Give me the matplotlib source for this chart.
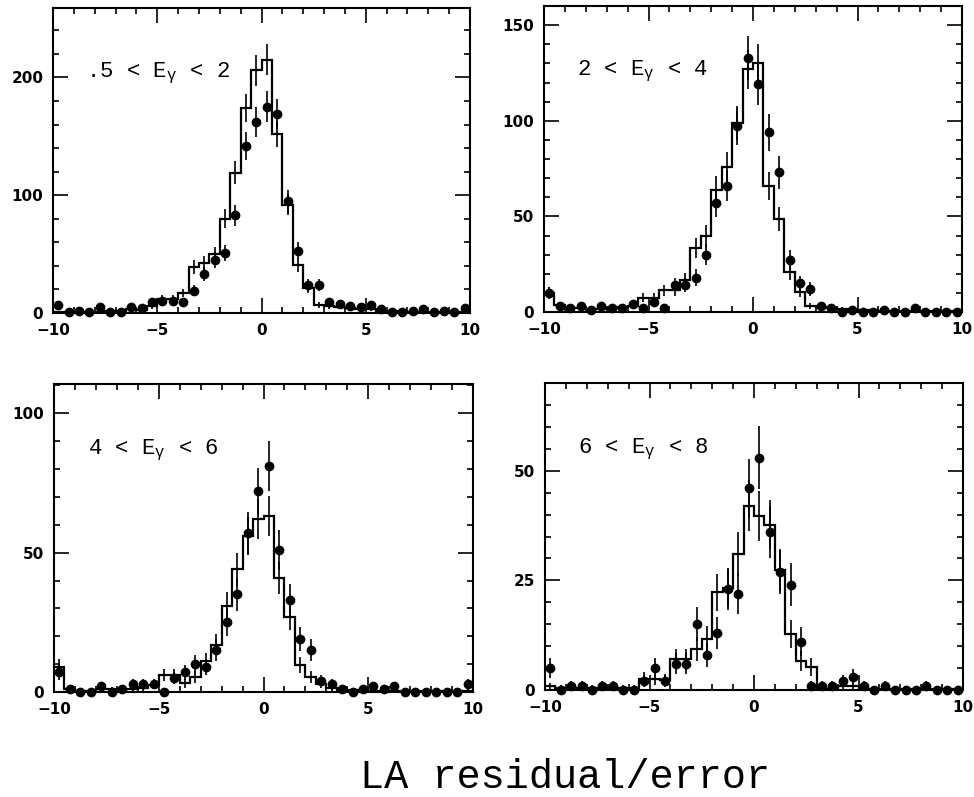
import numpy as np
import matplotlib
matplotlib.use("Agg")
import matplotlib.pyplot as plt
from matplotlib.ticker import MultipleLocator

plt.rcParams['mathtext.fontset'] = 'custom'
plt.rcParams['mathtext.rm'] = 'Liberation Mono'
plt.rcParams['mathtext.it'] = 'Liberation Mono'

# ---------------- data ----------------
bin_low, bin_high, bin_width = -10.0, 10.0, 0.5

labels = ['.5 < E$_{\\gamma}$ < 2', '2 < E$_{\\gamma}$ < 4',
          '4 < E$_{\\gamma}$ < 6', '6 < E$_{\\gamma}$ < 8']

data1 = [7, 1, 2, 1, 5, 1, 1, 5, 4, 9, 10, 10, 9, 19, 33, 45, 51, 83, 142, 162,
         175, 169, 95, 53, 24, 24, 9, 8, 6, 5, 7, 3, 1, 1, 2, 3, 1, 2, 1, 4]
mc1 = [1, 1, 1, 1, 1, 2, 2, 3, 2.5, 5.7, 12, 12, 17, 39, 42.5, 50, 80, 119, 174, 206,
       215, 152, 92, 41, 21, 7, 5.7, 5, 4, 3, 3, 2, 2, 1.5, 1, 1, 1, 1, 1, 1]

data2 = [10, 3, 2, 3, 1, 3, 2, 2, 4, 2, 5, 2, 14, 14, 18, 30, 57, 66, 97, 133,
         119, 94, 73, 27, 15, 12, 3, 2, 0, 1, 0, 0, 1, 0, 0, 2, 0, 0, 0, 0]
mc2 = [10, 3.5, 2, 2, 1.5, 1.5, 2, 2.5, 3, 7.5, 7.5, 11.3, 11.3, 16.7, 33.6, 39.7, 64, 76, 99, 127,
       130, 66, 48.4, 20.9, 10.6, 3.1, 2.6, 2, 1.5, 1, 1, 1, 0.7, 0.7, 0.5, 0.5, 0.5, 0.5, 0.5, 0.5]

data3 = [7, 1, 0, 0, 2, 0, 1, 3, 3, 3, 0, 5, 7, 10, 9, 15, 25, 35, 57, 72,
         81, 51, 33, 19, 15, 4, 3, 1, 0, 1, 2, 1, 2, 0, 0, 0, 0, 0, 0, 3]
mc3 = [9, 1, 0.5, 0.5, 1, 1, 1, 1, 1.5, 2.4, 6, 6, 3.2, 5.5, 11, 17, 31, 44, 56, 62,
       63, 41, 27, 9.8, 5.3, 2.9, 1.4, 0.6, 0.6, 0.6, 0.5, 0.5, 0.5, 0.5, 0.5, 0.5, 0.5, 0.5, 0.5, 0.5]

data4 = [5, 0, 1, 1, 0, 1, 1, 0, 0, 2, 5, 2, 6, 6, 15, 8, 13, 23, 22, 46,
         53, 36, 27, 24, 11, 1, 1, 1, 2, 3, 1, 0, 1, 0, 0, 0, 1, 0, 0, 0]
mc4 = [0.8, 0.5, 0.5, 0.5, 0.5, 0.5, 0.5, 0.5, 0.5, 2.6, 2.6, 2.3, 7, 7, 9.3, 11.6, 22.3, 23.3, 31, 42,
       39.7, 37.7, 27.3, 12.7, 6.6, 5.3, 0.3, 0.3, 0.8, 0.8, 0.3, 0.3, 0.3, 0.3, 0.3, 0.3, 0.3, 0.3, 0.3, 0.3]

y_max = [259, 160, 110.5, 70]
y_major = [100, 50, 50, 25]
y_minor = [20, 10, 10, 5]

xlabel = 'LA residual/error'

# ---------------- layout ----------------
W, H = 974, 797
boxes = [(53, 8, 470, 313), (544, 6, 962, 312),
         (54, 384, 473, 692), (545, 383, 963, 690)]

fig = plt.figure(figsize=(W / 100, H / 100), dpi=100)
edges = np.arange(bin_low, bin_high + bin_width / 2, bin_width)
centers = (edges[:-1] + edges[1:]) / 2

datas = [data1, data2, data3, data4]
mcs = [mc1, mc2, mc3, mc4]

for i in range(4):
    l, t, r, b = boxes[i]
    ax = fig.add_axes([l / W, 1 - b / H, (r - l) / W, (b - t) / H])
    d = np.array(datas[i], dtype=float)
    m = np.array(mcs[i], dtype=float)
    ax.stairs(m, edges, color='black', lw=1.6, baseline=None)
    ax.errorbar(centers, m, yerr=0.9 * np.sqrt(m), fmt='none', ecolor='black',
                elinewidth=1.2, capsize=0)
    ax.errorbar(centers, d, yerr=np.sqrt(d), fmt='o', color='black', ms=6,
                elinewidth=1.2, capsize=0, clip_on=False, zorder=5)
    ax.set_xlim(bin_low, bin_high)
    ax.set_ylim(0, y_max[i])
    ax.xaxis.set_major_locator(MultipleLocator(5))
    ax.xaxis.set_minor_locator(MultipleLocator(1))
    ax.yaxis.set_major_locator(MultipleLocator(y_major[i]))
    ax.yaxis.set_minor_locator(MultipleLocator(y_minor[i]))
    ax.tick_params(which='both', direction='in', top=True, right=True,
                   width=1.2, colors='black')
    ax.tick_params(which='major', length=11, pad=7)
    ax.tick_params(which='minor', length=4.5)
    for lab in ax.get_xticklabels() + ax.get_yticklabels():
        lab.set_fontfamily('DejaVu Sans')
        lab.set_fontweight('bold')
        lab.set_fontsize(11)
    for s in ax.spines.values():
        s.set_linewidth(1.5)
    ax.text(0.08, 0.785, labels[i], transform=ax.transAxes, ha='left', va='center',
            fontsize=16, family='Liberation Mono')

fig.text(565 / W, 1 - 788 / H, xlabel, ha='center', va='baseline',
         fontsize=29, family='Liberation Mono')

fig.savefig('out.png', dpi=100)
